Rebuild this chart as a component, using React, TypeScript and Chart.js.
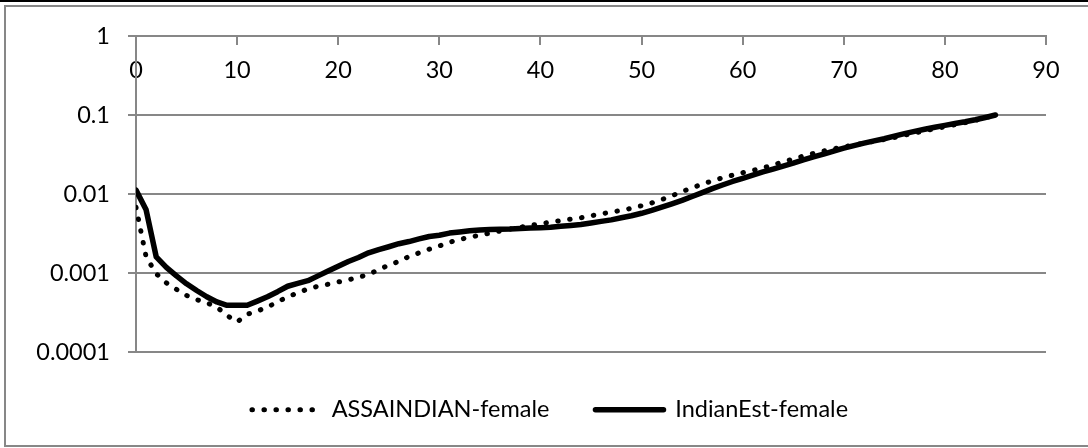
import React, { useEffect, useRef } from "react";
import { Chart, registerables } from "chart.js";

Chart.register(...registerables);

const ages = [
  0, 1, 2, 3, 4, 5, 6, 7, 8, 9, 10, 11, 12, 13, 14, 15, 16, 17, 18, 19,
  20, 21, 22, 23, 24, 25, 26, 27, 28, 29, 30, 31, 32, 33, 34, 35, 36, 37, 38, 39,
  40, 41, 42, 43, 44, 45, 46, 47, 48, 49, 50, 51, 52, 53, 54, 55, 56, 57, 58, 59,
  60, 61, 62, 63, 64, 65, 66, 67, 68, 69, 70, 71, 72, 73, 74, 75, 76, 77, 78, 79,
  80, 81, 82, 83, 84, 85,
];

const assaIndianFemale = [
  0.0068, 0.0016, 0.00098, 0.00075, 0.00062, 0.00052, 0.00046, 0.00042, 0.00037, 0.00029,
  0.00024, 0.0003, 0.00033, 0.00037, 0.00043, 0.0005, 0.00056, 0.00063, 0.00068, 0.00072,
  0.00077, 0.00082, 0.00088, 0.00096, 0.0011, 0.00126, 0.0014, 0.00162, 0.0018, 0.002,
  0.0022, 0.00245, 0.00265, 0.00285, 0.003, 0.0032, 0.0034, 0.0036, 0.0038, 0.004,
  0.0042, 0.0044, 0.0046, 0.0048, 0.005, 0.0053, 0.0056, 0.0059, 0.0062, 0.0066,
  0.0071, 0.0077, 0.0085, 0.0095, 0.0107, 0.012, 0.0133, 0.0147, 0.016, 0.0173,
  0.0186, 0.0199, 0.0214, 0.0233, 0.0255, 0.0278, 0.0302, 0.0326, 0.035, 0.0373,
  0.0395, 0.0418, 0.044, 0.0465, 0.049, 0.052, 0.0555, 0.059, 0.063, 0.067,
  0.071, 0.0755, 0.08, 0.0855, 0.092, 0.1,
];

const indianEstFemale = [
  0.0112, 0.0063, 0.0016, 0.00118, 0.00092, 0.00073, 0.0006, 0.0005, 0.00043, 0.00039,
  0.00039, 0.00039, 0.00044, 0.0005, 0.00058, 0.00068, 0.00074, 0.0008, 0.00092, 0.00106,
  0.00122, 0.0014, 0.00157, 0.0018, 0.00198, 0.00215, 0.00235, 0.0025, 0.0027, 0.0029,
  0.003, 0.0032, 0.0033, 0.00342, 0.0035, 0.00355, 0.00358, 0.0036, 0.00365, 0.0037,
  0.00375, 0.0038, 0.0039, 0.004, 0.00412, 0.0043, 0.0045, 0.0047, 0.005, 0.0053,
  0.0057, 0.0062, 0.0068, 0.0075, 0.0083, 0.0093, 0.0104, 0.0117, 0.013, 0.0144,
  0.0158, 0.0173, 0.019, 0.0207, 0.0226, 0.0246, 0.027, 0.0295, 0.032, 0.035,
  0.038, 0.041, 0.044, 0.047, 0.05, 0.054, 0.058, 0.062, 0.066, 0.07,
  0.074, 0.078, 0.082, 0.087, 0.093, 0.1,
];

const seriesLabels = ["ASSAINDIAN-female", "IndianEst-female"];
const yTickValues = [0.0001, 0.001, 0.01, 0.1, 1];
const xMin = 0;
const xMax = 90;
const xStep = 10;

const GRAY = "#878787";
const FONT = { family: "Lato", size: 23.5 };

const shiftLegend = {
  id: "shiftLegend",
  afterLayout(chart: any) {
    const lg = chart.legend;
    if (lg) {
      lg.left += 27;
      lg.right += 27;
    }
  },
};

export default function App() {
  const ref = useRef<HTMLCanvasElement>(null);

  useEffect(() => {
    document.body.style.margin = "0";
    const canvas = ref.current;
    if (!canvas) return;
    const chart = new Chart(canvas, {
      type: "line",
      plugins: [shiftLegend],
      data: {
        datasets: [
          {
            label: seriesLabels[0],
            data: ages.map((a, i) => ({ x: a, y: assaIndianFemale[i] })),
            borderColor: "#000",
            backgroundColor: "#000",
            borderWidth: 5,
            borderDash: [0.5, 11.5],
            borderCapStyle: "round",
            borderJoinStyle: "round",
            pointRadius: 0,
            tension: 0,
            order: 1,
          },
          {
            label: seriesLabels[1],
            data: ages.map((a, i) => ({ x: a, y: indianEstFemale[i] })),
            borderColor: "#000",
            backgroundColor: "#000",
            borderWidth: 5.5,
            borderCapStyle: "round",
            borderJoinStyle: "round",
            pointRadius: 0,
            tension: 0,
            order: 0,
          },
        ],
      },
      options: {
        animation: false,
        responsive: true,
        maintainAspectRatio: false,
        layout: { padding: { left: 0, right: 54, top: 36, bottom: 16.5 } },
        plugins: {
          tooltip: { enabled: false },
          legend: {
            display: true,
            position: "bottom",
            labels: {
              usePointStyle: true,
              pointStyle: "line",
              pointStyleWidth: 68,
              padding: 46,
              color: "#000",
              font: FONT,
              sort: (a: any, b: any) => a.datasetIndex - b.datasetIndex,
              generateLabels: (ch: any) =>
                ch.data.datasets.map((ds: any, i: number) => ({
                  text: ds.label,
                  fillStyle: "rgba(0,0,0,0)",
                  strokeStyle: "#000",
                  fontColor: "#000",
                  lineWidth: ds.borderWidth,
                  lineDash: ds.borderDash || [],
                  lineDashOffset: 0,
                  lineCap: "round",
                  lineJoin: "round",
                  pointStyle: "line",
                  rotation: 0,
                  hidden: false,
                  datasetIndex: i,
                })),
            },
          },
        },
        scales: {
          x: {
            type: "linear",
            position: { y: 1 } as any,
            min: xMin,
            max: xMax,
            ticks: { stepSize: xStep, color: "#000", font: FONT, padding: 12 },
            grid: {
              drawOnChartArea: false,
              drawTicks: true,
              tickLength: 8,
              color: GRAY,
              lineWidth: 2,
            },
            border: { display: true, color: GRAY, width: 2 },
          },
          y: {
            type: "logarithmic",
            position: "left",
            min: 0.0001,
            max: 1,
            afterBuildTicks: (scale: any) => {
              scale.ticks = yTickValues.map((v) => ({ value: v }));
            },
            afterFit: (scale: any) => {
              scale.width = 136;
            },
            ticks: {
              color: "#000",
              font: FONT,
              padding: 18,
              autoSkip: false,
              callback: (v: any) => String(Number(v)),
            },
            grid: {
              color: GRAY,
              lineWidth: 2,
              tickLength: 8,
              drawTicks: true,
            },
            border: { display: true, color: GRAY, width: 2 },
          },
        },
      },
    });
    return () => chart.destroy();
  }, []);

  return (
    <div
      style={{
        position: "fixed",
        left: 0,
        top: 0,
        width: 1088,
        height: 448,
        overflow: "hidden",
        background: "#fff",
      }}
    >
      <div
        style={{
          position: "absolute",
          left: 0,
          top: 0,
          width: 1088,
          height: 2,
          background: "#000",
        }}
      />
      <div
        style={{
          position: "absolute",
          left: 4,
          top: 5,
          width: 1100,
          height: 438,
          border: `2px solid ${GRAY}`,
        }}
      />
      <div style={{ position: "absolute", left: 0, top: 0, width: 1100, height: 448 }}>
        <canvas ref={ref} />
      </div>
    </div>
  );
}
